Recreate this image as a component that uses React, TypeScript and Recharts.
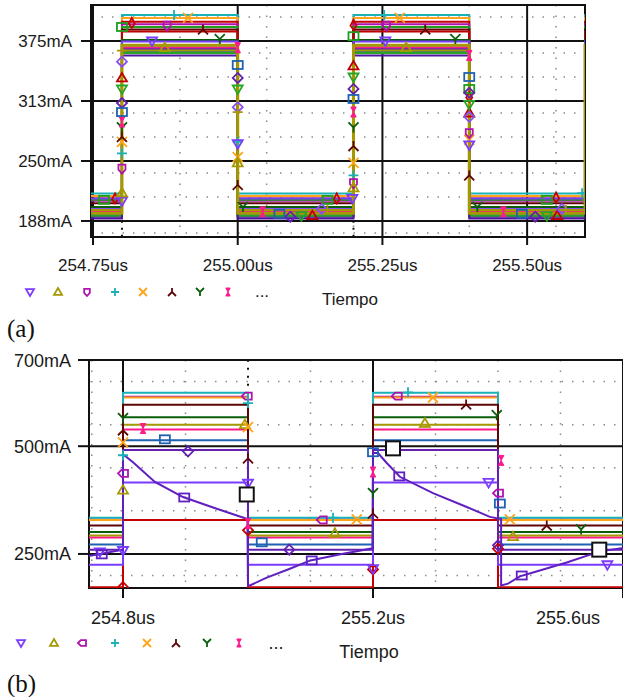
import React from 'react';
import { ComposedChart, Line, Scatter, XAxis, YAxis, CartesianGrid, ReferenceLine, ReferenceArea } from 'recharts';

const FONT = '"Liberation Sans", Arial, Helvetica, sans-serif';

// ---------- panel (a): square-wave currents, switching every 0.2us ----------
const aEdges = [254.8, 255.0, 255.2, 255.4, 255.6];
const aStart = 254.74;
const aEnd = 255.66;
const aTicksX = [254.75, 255.0, 255.25, 255.5];
const aTicksY = [187.5, 250, 312.5, 375];
const aMinorX = [254.8, 254.85, 254.9, 254.95, 255.05, 255.1, 255.15, 255.2, 255.3, 255.35, 255.4, 255.45, 255.55];
const aMinorY = [175, 200, 212.5, 225, 237.5, 262.5, 275, 287.5, 300, 325, 337.5, 350, 362.5, 387.5, 400];

const aNames = ['cyan', 'orange', 'red', 'magenta', 'green', 'brown', 'red2', 'dkgreen', 'violet', 'violet2', 'pink', 'purple', 'blue', 'green2', 'indigo', 'olive2', 'olive'];
const aLow = [216, 213.5, 211, 208.5, 209.5, 206, 193, 202, 211, 200, 197, 192, 195, 193, 190, 199, 195.5];
const aHigh = [402, 399, 395, 392.5, 389.5, 387, 385, 376, 374.5, 368.5, 368, 366.5, 364.5, 362.5, 360, 365, 370.5];
const aMarks: number[][][] = [
  [[254.89, 402], [254.8, 258], [255.0, 270], [255.253, 402], [255.2, 235], [255.595, 216.5]],
  [[254.914, 399], [254.8, 270], [255.0, 254], [255.28, 399], [255.2, 248], [255.4, 272]],
  [[254.817, 394], [254.788, 211], [255.171, 211], [255.2, 392], [255.4, 317], [255.55, 212]],
  [[254.878, 391], [254.8, 242], [255.257, 391], [255.2, 227], [255.4, 279]],
  [[254.8, 389.6], [254.769, 209.5], [255.155, 209.5], [255.2, 380], [255.4, 325], [255.534, 209.5]],
  [[254.94, 387], [254.8, 275], [255.0, 225], [255.324, 387], [255.2, 265.6], [255.4, 235]],
  [[254.8, 336.5], [255.129, 193], [255.2, 349], [255.4, 300], [255.552, 193]],
  [[254.969, 377], [254.8, 285], [255.009, 202], [255.376, 377], [255.2, 285], [255.414, 202]],
  [[254.852, 375], [254.8, 208.3], [255.0, 268], [255.255, 375], [255.198, 211], [255.4, 266.7]],
  [[254.8, 353.4], [255.0, 306], [255.145, 200], [255.4, 296], [255.56, 200]],
  [[254.8, 290.6], [255.0, 368], [255.043, 197], [255.2, 301], [255.4, 360], [255.459, 197]],
  [[254.8, 310.4], [255.0, 336.5], [255.091, 192], [255.2, 325], [255.4, 321], [255.514, 192]],
  [[254.8, 301], [255.0, 350], [255.072, 195], [255.2, 314.6], [255.4, 337.5], [255.491, 195]],
  [[254.8, 325], [255.0, 325], [255.11, 193], [255.2, 337.5], [255.4, 309], [255.534, 193]],
  [],
  [[254.8, 365], [255.0, 301], [255.155, 199], [255.567, 199]],
  [[254.874, 368], [254.8, 216.7], [255.0, 248], [255.291, 368], [255.2, 222]],
];

// ---------- panel (b) ----------
const bEdges = [254.8, 255.0, 255.2, 255.4];
const bStart = 254.74;
const bEnd = 255.62;
const bTicksX = [254.8, 255.2, 255.6];
const bTicksY = [250, 500, 700];
const bMinorX = [254.75, 254.9, 255.1, 255.3, 255.4, 255.5];
const bMinorY = [200, 300, 350, 400, 450, 550, 600, 650];

const bNames = ['red', 'violet', 'blue', 'pink', 'olive', 'dkgreen', 'magenta', 'orange', 'cyan', 'brown', 'purple'];
const bLow = [173, 225, 272, 288, 293, 301, 330, 329, 334, 316, 260];
const bHigh = [329, 416, 514, 539, 550, 567, 615, 613, 624, 596, 491];
const bMarks: number[][][] = [
  [[254.8, 173], [255.0, 305], [255.2, 214], [255.4, 262]],
  [[254.763, 255], [254.8, 258], [255.0, 414], [255.385, 416], [255.2, 216], [255.575, 225]],
  [[254.867, 516], [255.022, 277], [255.2, 486], [255.403, 367]],
  [[254.832, 541], [255.0, 321], [255.2, 440], [255.405, 467]],
  [[254.8, 398], [254.995, 550], [255.283, 553], [255.139, 298], [255.424, 290]],
  [[254.8, 565], [255.398, 572], [255.2, 391], [255.533, 307]],
  [[254.8, 437], [254.998, 616], [255.238, 616], [255.118, 329], [255.4, 391]],
  [[254.8, 509], [255.0, 544], [255.296, 613], [255.174, 330], [255.419, 330]],
  [[254.8, 479], [255.0, 600], [255.256, 625], [255.136, 334]],
  [[254.8, 537], [255.0, 472], [255.349, 597], [255.2, 344], [255.478, 316]],
  [[254.904, 488], [255.066, 260], [255.4, 270]],
];

// RC-like trace (exponential decay / recovery)
const bCurveT = [254.74, 254.8, 254.8, 254.803, 254.816, 254.851, 254.896, 254.95, 254.999, 255.0, 255.003, 255.03, 255.066, 255.1, 255.15, 255.199, 255.2, 255.208, 255.222, 255.243, 255.296, 255.35, 255.387, 255.405, 255.405, 255.416, 255.435, 255.456, 255.51, 255.563, 255.62];
const bCurveV = [244, 260, 479, 478, 463, 417, 382, 355, 331, 177, 177, 195, 215, 235, 250, 263, 484, 484, 461, 429, 391, 359, 336, 331, 177, 181, 198, 207, 230, 256, 268];
const bCurveMarks = [[254.766, 249], [254.898, 381], [255.102, 235], [255.242, 430], [255.438, 200]];
const bCursors = [[254.998, 388], [255.232, 495], [255.562, 260]];

// ---------- styles ----------
const COL: Record<string, string> = {
  cyan: '#1AB2B8', orange: '#FFA31A', red: '#C40000', magenta: '#B012B0', green: '#1E9E1E',
  brown: '#5E0606', red2: '#C00000', dkgreen: '#0A5F0A', violet: '#7B3BFF', violet2: '#8A4CF5',
  pink: '#FF1A8C', purple: '#6420B0', blue: '#1F62B2', green2: '#26A626', indigo: '#4E14A0',
  olive2: '#A69800', olive: '#A69800', curve: '#6020C0',
};
const aShapes = ['plus', 'x', 'drop', 'house', 'sq', 'lam', 'tup', 'y', 'tdown', 'dia', 'bow', 'dia', 'sq', 'tdown', 'none', 'plus', 'tup'];
const bShapes = ['dia', 'tdown', 'sq', 'bow', 'tup', 'y', 'houseL', 'x', 'plus', 'lam', 'dia'];

function stepData(low: number, high: number, edges: number[], start: number, end: number) {
  const pts = [{ t: start, v: low }];
  let cur = low;
  edges.forEach((e) => {
    const next = cur === low ? high : low;
    pts.push({ t: e, v: cur }, { t: e, v: next });
    cur = next;
  });
  pts.push({ t: end, v: cur });
  return pts;
}

const toPts = (arr: number[][]) => arr.map(([t, v]) => ({ t, v }));

function Mark({ cx, cy, shape, color, s = 5 }: { cx: number; cy: number; shape: string; color: string; s?: number }) {
  const c = { fill: 'none', stroke: color, strokeWidth: 1.8 };
  switch (shape) {
    case 'tdown':
      return <polygon {...c} points={`${cx - s},${cy - s * 0.7} ${cx + s},${cy - s * 0.7} ${cx},${cy + s}`} />;
    case 'tup':
      return <polygon {...c} points={`${cx - s},${cy + s * 0.7} ${cx + s},${cy + s * 0.7} ${cx},${cy - s}`} />;
    case 'house':
      return <polygon {...c} points={`${cx - s * 0.7},${cy - s * 0.8} ${cx + s * 0.7},${cy - s * 0.8} ${cx + s * 0.7},${cy + s * 0.2} ${cx},${cy + s} ${cx - s * 0.7},${cy + s * 0.2}`} />;
    case 'houseL':
      return <polygon {...c} points={`${cx - s},${cy} ${cx - s * 0.3},${cy - s * 0.7} ${cx + s},${cy - s * 0.7} ${cx + s},${cy + s * 0.7} ${cx - s * 0.3},${cy + s * 0.7}`} />;
    case 'plus':
      return <path {...c} d={`M${cx - s},${cy} L${cx + s},${cy} M${cx},${cy - s} L${cx},${cy + s}`} />;
    case 'x':
      return <path {...c} d={`M${cx - s},${cy - s} L${cx + s},${cy + s} M${cx - s},${cy + s} L${cx + s},${cy - s}`} />;
    case 'lam':
      return <path {...c} d={`M${cx},${cy - s} L${cx},${cy} M${cx - s},${cy + s} L${cx},${cy} L${cx + s},${cy + s}`} />;
    case 'y':
      return <path {...c} d={`M${cx - s},${cy - s} L${cx},${cy} L${cx + s},${cy - s} M${cx},${cy} L${cx},${cy + s}`} />;
    case 'bow':
      return <polygon fill={color} stroke={color} strokeWidth={1} points={`${cx - s * 0.55},${cy - s} ${cx + s * 0.55},${cy - s} ${cx - s * 0.55},${cy + s} ${cx + s * 0.55},${cy + s}`} />;
    case 'sq':
      return <rect {...c} x={cx - s} y={cy - s * 0.8} width={2 * s} height={1.6 * s} />;
    case 'dia':
      return <polygon {...c} points={`${cx},${cy - s} ${cx + s},${cy} ${cx},${cy + s} ${cx - s},${cy}`} />;
    case 'drop':
      return <polygon {...c} points={`${cx},${cy - s} ${cx + s * 0.6},${cy + s * 0.2} ${cx},${cy + s} ${cx - s * 0.6},${cy + s * 0.2}`} />;
    case 'big':
      return <rect x={cx - 7} y={cy - 7} width={14} height={14} fill="#fff" stroke="#111" strokeWidth={2} />;
    default:
      return <g />;
  }
}

const tickStyle = (size: number) => ({ fontSize: size, fill: '#1a1a1a', fontFamily: FONT });
const mA = (v: number) => `${Math.round(v)}mA`;

function BTick(p: any) {
  const { x, y, payload } = p;
  const right = x > 590;
  return (
    <text x={right ? 600 : x} y={y} dy="0.71em" textAnchor={right ? 'end' : 'middle'} {...tickStyle(18)}>
      {`${Number(payload.value).toFixed(1)}us`}
    </text>
  );
}

function ChartA() {
  const dom: [number, number] = [254.7465, 255.6];
  const domY: [number, number] = [170.8, 412.5];
  return (
    <ComposedChart width={623} height={290} margin={{ top: 5, right: 38, bottom: 13, left: 0 }}>
      <CartesianGrid stroke="#8c8c8c" strokeWidth={1.5} strokeDasharray="1.5 9" horizontalValues={aMinorY} verticalValues={aMinorX} />
      <CartesianGrid stroke="#111" strokeWidth={2} />
      <XAxis type="number" dataKey="t" domain={dom} ticks={aTicksX} allowDataOverflow axisLine={false}
        tickLine={{ stroke: '#111', strokeWidth: 2 }} tickSize={8} tickMargin={14} height={40}
        tick={tickStyle(17)} tickFormatter={(v: number) => `${v.toFixed(2)}us`} />
      <YAxis type="number" domain={domY} ticks={aTicksY} allowDataOverflow axisLine={false} width={91}
        tickLine={{ stroke: '#111', strokeWidth: 2 }} tickSize={10} tickMargin={9}
        tick={tickStyle(17)} tickFormatter={mA} />
      <ReferenceLine segment={[{ x: 254.8, y: 171 }, { x: 254.8, y: 190 }]} stroke="#111" strokeDasharray="2 5" strokeWidth={2} />
      <ReferenceLine segment={[{ x: 255.2, y: 171 }, { x: 255.2, y: 190 }]} stroke="#111" strokeDasharray="2 5" strokeWidth={2} />
      {aNames.map((n, i) => (
        <Line key={n} data={stepData(aLow[i], aHigh[i], aEdges, aStart, aEnd)} dataKey="v" type="linear"
          stroke={COL[n]} strokeWidth={n === 'olive' ? 3 : 2} dot={false} isAnimationActive={false} />
      ))}
      {aNames.map((n, i) => (
        <Scatter key={`m-${n}`} data={toPts(aMarks[i])} dataKey="v" isAnimationActive={false}
          shape={(p: any) => <Mark cx={p.cx} cy={p.cy} shape={aShapes[i]} color={COL[n]} />} />
      ))}
      <ReferenceArea x1={dom[0]} x2={dom[1]} y1={domY[0]} y2={domY[1]} fill="none" stroke="#111" strokeWidth={2} ifOverflow="visible" />
    </ComposedChart>
  );
}

function ChartB() {
  const dom: [number, number] = [254.7456, 255.608];
  const domY: [number, number] = [171, 700];
  const curve = bCurveT.map((t, i) => ({ t, v: bCurveV[i] }));
  return (
    <ComposedChart width={628} height={283} margin={{ top: 10, right: 0, bottom: 5, left: 0 }}>
      <CartesianGrid stroke="#8c8c8c" strokeWidth={1.5} strokeDasharray="1.5 9" horizontalValues={bMinorY} verticalValues={bMinorX} />
      <CartesianGrid stroke="#111" strokeWidth={2} />
      <XAxis type="number" dataKey="t" domain={dom} ticks={bTicksX} allowDataOverflow axisLine={false}
        tickLine={{ stroke: '#111', strokeWidth: 2 }} tickSize={10} tickMargin={13} height={40} tick={<BTick />} />
      <YAxis type="number" domain={domY} ticks={bTicksY} allowDataOverflow axisLine={false} width={89}
        tickLine={{ stroke: '#111', strokeWidth: 2 }} tickSize={11} tickMargin={7}
        tick={tickStyle(18)} tickFormatter={mA} />
      <ReferenceLine segment={[{ x: 255.0, y: 640 }, { x: 255.0, y: 700 }]} stroke="#111" strokeDasharray="2 6" strokeWidth={2} />
      {bNames.map((n, i) => (
        <Line key={n} data={stepData(bLow[i], bHigh[i], bEdges, bStart, bEnd)} dataKey="v" type="linear"
          stroke={COL[n]} strokeWidth={2} dot={false} isAnimationActive={false} />
      ))}
      <Line data={curve} dataKey="v" type="linear" stroke={COL.curve} strokeWidth={2} dot={false} isAnimationActive={false} />
      {bNames.map((n, i) => (
        <Scatter key={`m-${n}`} data={toPts(bMarks[i])} dataKey="v" isAnimationActive={false}
          shape={(p: any) => <Mark cx={p.cx} cy={p.cy} shape={bShapes[i]} color={COL[n]} />} />
      ))}
      <Scatter data={toPts(bCurveMarks)} dataKey="v" isAnimationActive={false}
        shape={(p: any) => <Mark cx={p.cx} cy={p.cy} shape="sq" color={COL.curve} />} />
      <Scatter data={toPts(bCursors)} dataKey="v" isAnimationActive={false}
        shape={(p: any) => <Mark cx={p.cx} cy={p.cy} shape="big" color="#111" />} />
      <ReferenceArea x1={dom[0]} x2={dom[1]} y1={domY[0]} y2={domY[1]} fill="none" stroke="#111" strokeWidth={2} ifOverflow="visible" />
    </ComposedChart>
  );
}

const legA = { names: ['violet', 'olive', 'magenta', 'cyan', 'orange', 'brown', 'dkgreen', 'pink'], shapes: ['tdown', 'tup', 'house', 'plus', 'x', 'lam', 'y', 'bow'], xs: [30, 58, 87, 115, 143, 172, 200, 228] };
const legB = { names: ['violet', 'olive', 'magenta', 'cyan', 'orange', 'brown', 'dkgreen', 'pink'], shapes: ['tdown', 'tup', 'houseL', 'plus', 'x', 'lam', 'y', 'bow'], xs: [21, 54, 82, 115, 147, 176, 207, 239] };

export default function App() {
  return (
    <div style={{ position: 'fixed', left: 0, top: 0, width: 623, height: 697, overflow: 'hidden', background: '#fff' }}>
      <div style={{ position: 'absolute', left: 0, top: 0 }}>
        <ChartA />
      </div>
      <div style={{ position: 'absolute', left: 0, top: 350 }}>
        <ChartB />
      </div>
      <svg width={623} height={697} style={{ position: 'absolute', left: 0, top: 0, pointerEvents: 'none' }}>
        {legA.names.map((n, i) => (
          <Mark key={`la${i}`} cx={legA.xs[i]} cy={292} shape={legA.shapes[i]} color={COL[n]} s={4} />
        ))}
        <text x={262} y={297} textAnchor="middle" fontFamily={FONT} fontSize={17} fill="#1a1a1a">...</text>
        <text x={350} y={305} textAnchor="middle" fontFamily={FONT} fontSize={17} fill="#1a1a1a">Tiempo</text>
        <text x={7} y={337} fontFamily='"Liberation Serif", "Times New Roman", serif' fontSize={25} fill="#111">(a)</text>
        {legB.names.map((n, i) => (
          <Mark key={`lb${i}`} cx={legB.xs[i]} cy={643} shape={legB.shapes[i]} color={COL[n]} s={4} />
        ))}
        <text x={276} y={649} textAnchor="middle" fontFamily={FONT} fontSize={18} fill="#1a1a1a">...</text>
        <text x={369} y={658} textAnchor="middle" fontFamily={FONT} fontSize={18} fill="#1a1a1a">Tiempo</text>
        <text x={7} y={692} fontFamily='"Liberation Serif", "Times New Roman", serif' fontSize={25} fill="#111">(b)</text>
      </svg>
    </div>
  );
}
